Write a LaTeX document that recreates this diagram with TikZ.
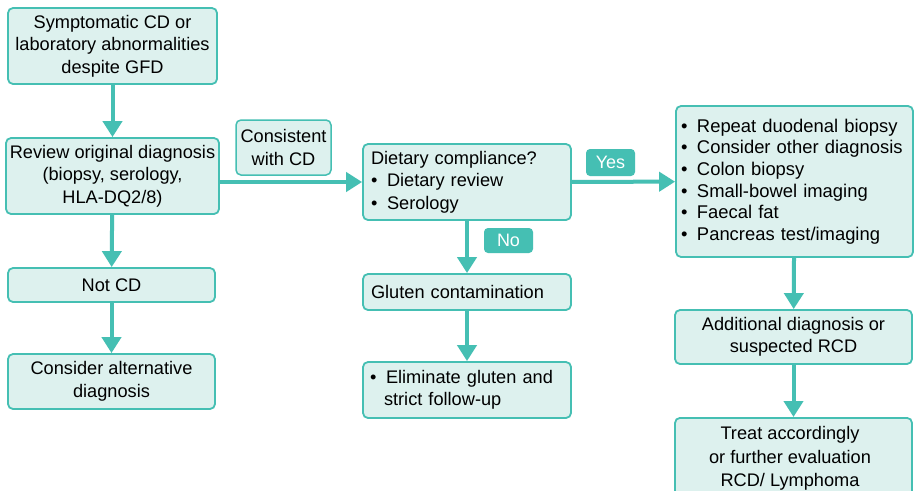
\documentclass[tikz,border=0pt]{standalone}
\usepackage{fontspec}
\setmainfont{Liberation Sans}
\usetikzlibrary{arrows.meta}
\definecolor{tealc}{HTML}{45BFB3}
\definecolor{lightc}{HTML}{DDF1EE}
\tikzset{
  box/.style={draw=tealc, fill=lightc, line width=1.8pt, rounded corners=5pt, inner sep=0pt, font=\fontsize{18.2}{22.5}\selectfont},
  badge/.style={fill=tealc, rounded corners=4pt, inner sep=0pt, text=white, font=\fontsize{18}{20}\selectfont},
  flow/.style={draw=tealc, line width=4pt, -{Triangle[width=19pt,length=16pt]}}
}
\newcommand{\bl}{\makebox[16pt][l]{•}}
\begin{document}
\begin{tikzpicture}[x=1pt,y=-1pt]
\clip (0,0) rectangle (918,490);
\fill[white] (0,0) rectangle (918,490);
% left column
\node[box, minimum width=209pt, minimum height=76pt, align=center] (sym) at (112.5,46) {Symptomatic CD or\\laboratory abnormalities\\despite GFD};
\node[box, minimum width=213pt, minimum height=76pt, align=center] (rev) at (112.5,176) {Review original diagnosis\\(biopsy, serology,\\HLA-DQ2/8)};
\node[box, minimum width=207pt, minimum height=34pt, align=center] (not) at (111.5,285) {Not CD};
\node[box, minimum width=207pt, minimum height=55pt, align=center] (alt) at (111.5,381.5) {Consider alternative\\diagnosis};
\node[box, minimum width=95pt, minimum height=55pt, align=center, line width=1.5pt] (cons) at (283.5,147.5) {Consistent\\with CD};
% middle column
\node[box, minimum width=208pt, minimum height=76pt, text width=192pt, align=left] (diet) at (467,182) {Dietary compliance?\\\bl Dietary review\\\bl Serology};
\node[box, minimum width=208pt, minimum height=36pt, text width=192pt, align=left] (glu) at (467,292) {Gluten contamination};
\node[box, minimum width=208pt, minimum height=56pt, text width=194pt, align=left] (eli) at (467,390) {\bl Eliminate gluten and\\\hspace*{14pt}strict follow-up};
% right column
\node[box, minimum width=237pt, minimum height=151pt, text width=227pt, align=left, font=\fontsize{18.4}{21.6}\selectfont] (list) at (794.5,181.5) {\bl Repeat duodenal biopsy\\\bl Consider other diagnosis\\\bl Colon biopsy\\\bl Small-bowel imaging\\\bl Faecal fat\\\bl Pancreas test/imaging};
\node[box, minimum width=237pt, minimum height=54pt, align=center] (add) at (793.5,337) {Additional diagnosis or\\suspected RCD};
\node[box, minimum width=237pt, minimum height=90pt, anchor=north] (trt) at (793.5,417) {};
\node[font=\fontsize{18.2}{23.5}\selectfont, align=center, anchor=north] (trttext) at (790,423) {Treat accordingly\\or further evaluation\\RCD/ Lymphoma};
% badges
\node[badge, minimum width=49pt, minimum height=27pt] (yes) at (610.5,162.5) {Yes};
\node[badge, minimum width=49pt, minimum height=25pt] (no) at (508.5,240.5) {No};
% arrows
\draw[flow] (sym) -- (rev);
\draw[flow] (rev) -- (not);
\draw[flow] (not) -- (alt);
\draw[flow] (rev.east |- diet.west) -- (diet.west);
\draw[flow] (diet) -- (glu);
\draw[flow] (glu) -- (eli);
\draw[flow] (diet) -- (list);
\draw[flow] (list) -- (add);
\draw[flow] (add) -- (trt);
\end{tikzpicture}
\end{document}
